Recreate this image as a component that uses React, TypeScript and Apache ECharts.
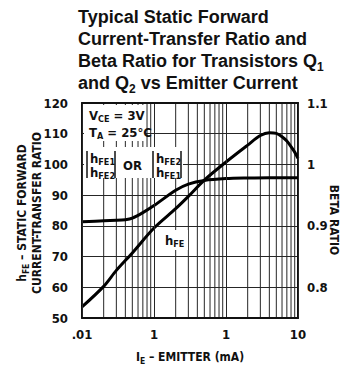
import React, { useEffect, useRef } from 'react';
import * as echarts from 'echarts';

// ---- data ----
const currentMA = [0.01, 0.02, 0.03, 0.05, 0.1, 0.2, 0.3, 0.5, 1, 2, 3, 4, 5, 6, 7, 8, 9, 10];
const hFE = [53.6, 60.3, 65.5, 71.2, 79.3, 85.6, 89.6, 94.9, 100.8, 106.3, 109.4, 110.3, 110.1, 109.0, 107.6, 105.8, 104.0, 102.0];

const betaCurrentMA = [0.01, 0.02, 0.03, 0.04, 0.05, 0.07, 0.1, 0.2, 0.3, 0.5, 1, 2, 4, 10];
const betaRatio = [0.9065, 0.9085, 0.909, 0.91, 0.9125, 0.9215, 0.933, 0.958, 0.968, 0.974, 0.977, 0.978, 0.9785, 0.9785];

const xMajorTicks = [0.01, 0.1, 1, 10];
const xMajorLabels = ['.01', '1', '1', '10'];
const xMinorGrid = [0.02, 0.03, 0.04, 0.05, 0.06, 0.07, 0.08, 0.09, 0.2, 0.3, 0.4, 0.5, 0.6, 0.7, 0.8, 0.9, 2, 3, 4, 5, 6, 7, 8, 9];

const rightTickValues = [0.8, 0.9, 1, 1.1];
const rightTickLabels = ['0.8', '0.9', '1', '1.1'];

const titleLines = [
  '{m|Typical Static Forward}',
  '{m|Current-Transfer Ratio and}',
  '{m|Beta Ratio for Transistors Q}{s|1}',
  '{m|and Q}{s|2}{m| vs Emitter Current}',
];

const NARROW = "'Liberation Sans Narrow', 'DejaVu Sans Condensed', 'Arial Narrow', sans-serif";
const SANS = "'Liberation Sans', Arial, Helvetica, sans-serif";
const INK = '#111';
const GRIDC = '#262626';
const Y_MIN = 50;
const Y_MAX = 120;

function rich(F: number, S: number, D: number, L: number, family: string, weight = 'bold') {
  const p = L / 2 + 0.3465 * F + D - 0.3465 * S - S / 2;
  return {
    m: { fontSize: F, fontFamily: family, fontWeight: weight, lineHeight: L, verticalAlign: 'middle', fill: INK },
    s: { fontSize: S, fontFamily: family, fontWeight: weight, lineHeight: S, padding: [p, 0, 0, 0], verticalAlign: 'top', fill: INK },
  };
}

function txt(x: number, y: number, text: string, r: any, align = 'left', rotation = 0, z = 12) {
  return {
    type: 'text', x, y, rotation, z,
    style: { text, align, verticalAlign: 'middle', rich: r },
  };
}

function bar(x: number, y1: number, y2: number) {
  return { type: 'line', z: 12, shape: { x1: x, y1, x2: x, y2 }, style: { stroke: INK, lineWidth: 1.5 } };
}

function mask(x: number, y: number, w: number, h: number) {
  return { type: 'rect', z: 11, shape: { x, y, width: w, height: h }, style: { fill: '#fff' } };
}

// zig-zag path through the minor grid positions: verticals inside the plot,
// horizontal links run along the top/bottom frame lines (hidden by the frame)
function minorGridPath() {
  const pts: number[][] = [];
  xMinorGrid.forEach((v, i) => {
    if (i % 2 === 0) { pts.push([v, Y_MIN], [v, Y_MAX]); } else { pts.push([v, Y_MAX], [v, Y_MIN]); }
  });
  return pts;
}

export default function App() {
  const ref = useRef<HTMLDivElement>(null);
  useEffect(() => {
    if (!ref.current) return;
    const chart = echarts.init(ref.current, null, { renderer: 'svg' });
    const titleRich = rich(18, 12, 4, 24, SANS);
    const annRich = rich(13, 9, 2.5, 16, NARROW);
    const axRich = rich(12, 8.5, 2.5, 15, NARROW);

    const labelGraphics = [
      ...titleLines.map((t, i) => txt(78, 16.5 + i * 22, t, titleRich)),
      mask(84, 105, 61, 36),
      mask(84, 147, 99, 31),
      mask(160, 230, 28, 20),
      txt(89, 115, '{m|V}{s|CE}{m| = 3V}', annRich),
      txt(89, 132, '{m|T}{s|A}{m| = 25°C}', annRich),
      bar(87, 151, 178), bar(115, 151, 178),
      txt(90, 158, '{m|h}{s|FE1}', annRich),
      txt(90, 172, '{m|h}{s|FE2}', annRich),
      txt(132.5, 165, '{m|OR}', annRich, 'center'),
      bar(153, 151, 178), bar(181, 151, 178),
      txt(156, 158, '{m|h}{s|FE2}', annRich),
      txt(156, 172, '{m|h}{s|FE1}', annRich),
      txt(165, 240, '{m|h}{s|FE}', annRich),
      txt(190, 357, '{m|I}{s|E}{m| – EMITTER (mA)}', axRich, 'center'),
      txt(22, 213, '{m|h}{s|FE}{m| – STATIC FORWARD}', axRich, 'center', Math.PI / 2),
      txt(37, 213, '{m|CURRENT-TRANSFER RATIO}', axRich, 'center', Math.PI / 2),
      txt(334, 220, '{m|BETA RATIO}', axRich, 'center', -Math.PI / 2),
    ];

    const frame = { show: true, onZero: false, lineStyle: { color: INK, width: 2 } };
    const option: any = {
      animation: false,
      backgroundColor: '#fff',
      grid: { left: 82, right: 42, top: 103, bottom: 48 },
      xAxis: [
        {
          type: 'log', logBase: 10, min: 0.01, max: 10, position: 'bottom', z: 8,
          axisLine: frame, axisTick: { show: false },
          splitLine: { show: true, lineStyle: { color: GRIDC, width: 1 } },
          axisLabel: {
            margin: 10, color: INK, fontFamily: NARROW, fontWeight: 'bold', fontSize: 13,
            formatter: (v: number) => {
              const i = xMajorTicks.findIndex((t) => Math.abs(Math.log10(t) - Math.log10(v)) < 1e-6);
              return i >= 0 ? xMajorLabels[i] : '';
            },
          },
        },
        {
          type: 'log', logBase: 10, min: 0.01, max: 10, position: 'top', z: 8,
          axisLine: frame, axisTick: { show: false }, axisLabel: { show: false }, splitLine: { show: false },
        },
      ],
      yAxis: [
        {
          type: 'value', min: Y_MIN, max: Y_MAX, interval: 10, position: 'left',
          axisLine: frame, axisTick: { show: false },
          splitLine: { show: true, lineStyle: { color: GRIDC, width: 1 } },
          axisLabel: { margin: 14, color: INK, fontFamily: NARROW, fontWeight: 'bold', fontSize: 13 },
        },
        {
          type: 'value', min: 0.75, max: 1.1, interval: 0.05, position: 'right',
          axisLine: frame, axisTick: { show: false }, splitLine: { show: false },
          axisLabel: {
            margin: 9, color: INK, fontFamily: NARROW, fontWeight: 'bold', fontSize: 13,
            formatter: (v: number) => {
              const i = rightTickValues.findIndex((t) => Math.abs(t - v) < 1e-6);
              return i >= 0 ? rightTickLabels[i] : '';
            },
          },
        },
      ],
      series: [
        {
          type: 'line', name: 'minor grid', xAxisIndex: 0, yAxisIndex: 0, symbol: 'none', silent: true,
          lineStyle: { color: GRIDC, width: 1 }, z: 2,
          data: minorGridPath(),
        },
        {
          type: 'line', name: 'hFE', xAxisIndex: 0, yAxisIndex: 0, symbol: 'none', smooth: 0.3,
          lineStyle: { color: '#000', width: 3 }, z: 5,
          data: currentMA.map((x, i) => [x, hFE[i]]),
        },
        {
          type: 'line', name: 'Beta ratio', xAxisIndex: 0, yAxisIndex: 1, symbol: 'none', smooth: 0.3,
          lineStyle: { color: '#000', width: 3 }, z: 5,
          data: betaCurrentMA.map((x, i) => [x, betaRatio[i]]),
        },
      ],
      graphic: labelGraphics,
    };
    chart.setOption(option);
    return () => chart.dispose();
  }, []);
  return <div ref={ref} style={{ position: 'fixed', left: 0, top: 0, width: 340, height: 366 }} />;
}
